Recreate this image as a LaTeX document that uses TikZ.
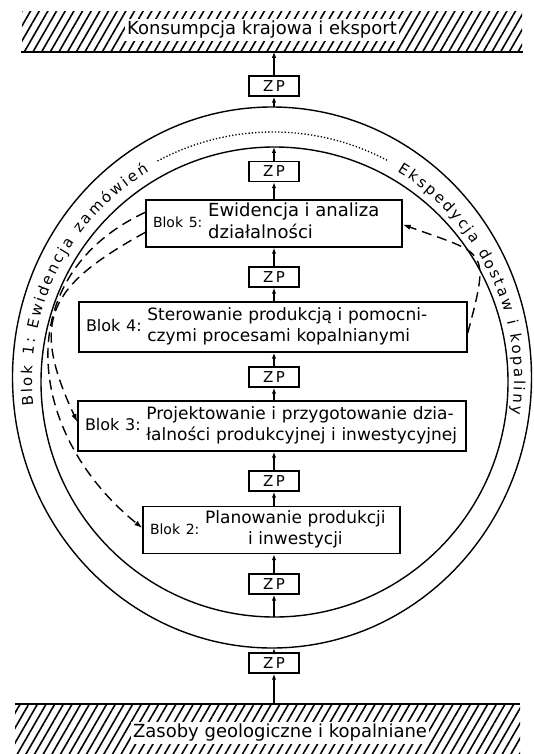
\documentclass[tikz,border=0pt]{standalone}
\usepackage{fontspec}
\setmainfont{DejaVu Sans}
\usetikzlibrary{shapes.geometric,arrows.meta,patterns.meta,decorations.text}

\newcommand{\etyk}[2]{{\fontsize{#1}{#1}\selectfont Blok #2:}}

\tikzset{
  blok/.style={draw, line width=1.4pt, inner xsep=7pt, inner ysep=0pt, align=left,
    font=\fontsize{17}{21}\selectfont},
  zp/.style={draw, line width=1.4pt, minimum width=50pt, minimum height=20pt,
    inner sep=0pt, font=\fontsize{15}{15}\selectfont},
  owal/.style={draw, ellipse, line width=1.4pt, inner sep=0pt, outer sep=0pt},
  pas/.style={pattern={Lines[angle=60,distance=7.5pt,line width=1.6pt]}, inner sep=0pt},
  strz/.style={line width=1.2pt, -{Latex[length=6pt,width=4.5pt]}},
  przer/.style={line width=1.4pt, dash pattern=on 10pt off 6pt,
    -{Latex[length=8pt,width=5.5pt]}},
  napis/.style={fill=white, inner sep=2pt, font=\fontsize{18}{18}\selectfont},
}

\begin{document}
\begin{tikzpicture}[x=1pt,y=1pt]
\useasboundingbox (0,0) rectangle (534,-754);

% pasy u gory i u dolu
\node[pas, minimum width=500pt, minimum height=39pt] (kons) at (272,-31.5) {};
\node[napis] (konsn) at (262,-30) {Konsumpcja krajowa i eksport};
\draw[line width=1.5pt] (kons.south west) -- (kons.south east);
\node[pas, minimum width=505pt, minimum height=50pt] (zas) at (267.5,-729) {};
\node[napis] (zasn) at (280,-733) {Zasoby geologiczne i kopalniane};
\draw[line width=1.5pt] (zas.north west) -- (zas.north east);

% owale
\node[owal, minimum width=519pt, minimum height=541pt] (zew) at (272,-377.5) {};
\node[owal, minimum width=467pt, minimum height=470pt] (wew) at (274.5,-382) {};
\coordinate (srodek) at (273,-380);

% bloki
\node[blok, text width=242pt, minimum height=47pt] (b5) at (274,-223.5)
  {\etyk{14}{5}\ {\fontsize{18}{22}\selectfont\begin{tabular}{@{}l@{}}Ewidencja i analiza\\działalności\end{tabular}}};
\node[blok, text width=374pt, minimum height=50pt] (b4) at (273,-327)
  {\etyk{16}{4}\ \begin{tabular}{@{}l@{}}Sterowanie produkcją i pomocni-\\czymi procesami kopalnianymi\end{tabular}};
\node[blok, text width=374pt, minimum height=50pt] (b3) at (272,-426)
  {\etyk{16}{3}\ \begin{tabular}{@{}l@{}}Projektowanie i przygotowanie dzia-\\łalności produkcyjnej i inwestycyjnej\end{tabular}};
\node[blok, text width=243pt, minimum height=47pt] (b2) at (271.5,-530)
  {\etyk{14}{2}\ \begin{tabular}{@{}c@{}}Planowanie produkcji\\i inwestycji\end{tabular}};

% skrzynki ZP
\foreach \n/\y in {1/86,2/171.5,3/277,4/377,5/481,6/584,7/663}
  \node[zp] (zp\n) at (274,-\y) {Z\,P};

% strzalki pionowe
\draw[strz] (zp7 |- zas.north) -- (zp7.south);
\draw[strz] (zp7.north) -- (zp7 |- zew.south);
\draw[strz] (zp6 |- wew.south) -- (zp6.south);
\draw[strz] (zp6.north) -- (zp6 |- b2.south);
\draw[strz] (zp5 |- b2.north) -- (zp5.south);
\draw[strz] (zp5.north) -- (zp5 |- b3.south);
\draw[strz] (zp4 |- b3.north) -- (zp4.south);
\draw[strz] (zp4.north) -- (zp4 |- b4.south);
\draw[strz] (zp3 |- b4.north) -- (zp3.south);
\draw[strz] (zp3.north) -- (zp3 |- b5.south);
\draw[strz] (zp2 |- b5.north) -- (zp2.south);
\draw[strz] (zp2.north) -- (zp2 |- wew.north);
\draw[strz] (zp1 |- zew.north) -- (zp1.south);
\draw[strz] (zp1.north) -- (zp1 |- kons.south);

% przerywane
\draw[przer] ([yshift=-13pt]b5.north west) to[out=205,in=141,looseness=1.22] ([yshift=2pt]b2.west);
\draw[przer] ([yshift=-33pt]b5.north west) to[out=209,in=115,looseness=1.42] ([yshift=4pt]b3.west);
\draw[przer] ([yshift=-6pt]b4.east) to[out=75,in=-20,looseness=1.8] ([yshift=-1pt]b5.east);

% napisy na owalu
\path[decorate, decoration={text along path, text align={fit to path}, raise=-5pt,
  text={|\fontsize{15}{15}\selectfont|Blok 1: Ewidencja zamówień}}]
  ([shift={(186:246 and 248)}]srodek) arc[start angle=186, end angle=121, x radius=246, y radius=248];
\path[decorate, decoration={text along path, text align={fit to path}, raise=-5pt,
  text={|\fontsize{15}{15}\selectfont|Ekspedycja dostaw i kopaliny}}]
  ([shift={(59:246 and 248)}]srodek) arc[start angle=59, end angle=-8, x radius=246, y radius=248];
\draw[dotted, line width=1.3pt] ([shift={(118:246 and 248)}]srodek)
  arc[start angle=118, end angle=62, x radius=246, y radius=248];
\end{tikzpicture}
\end{document}
